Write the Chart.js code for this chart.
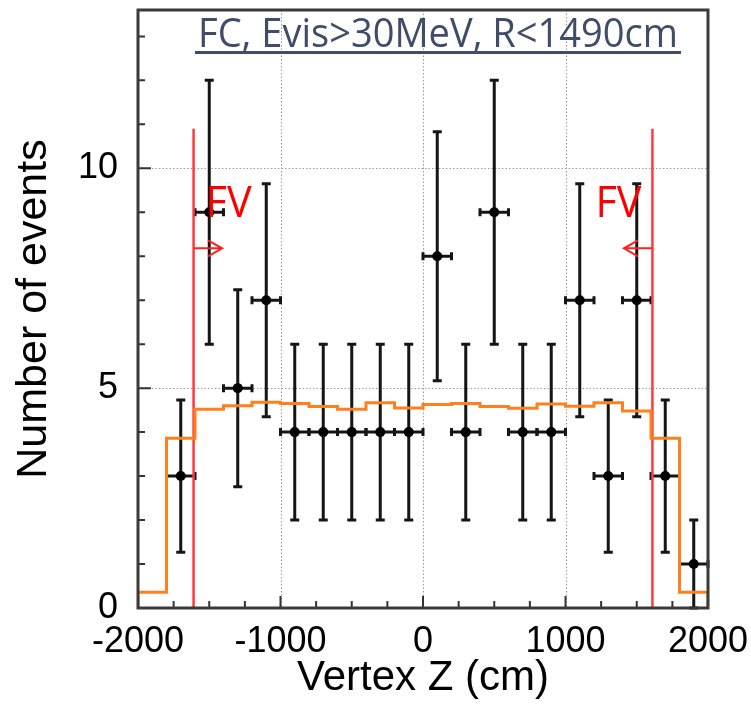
<!DOCTYPE html>
<html>
<head>
<meta charset="utf-8">
<script src="https://cdn.jsdelivr.net/npm/chart.js@4.4.1/dist/chart.umd.min.js"></script>
<style>
  html, body { margin: 0; padding: 0; background: #fff; }
  canvas { display: block; }
</style>
</head>
<body>
<canvas id="c" width="751" height="704"></canvas>
<script>
// Observed events per 200 cm bin of vertex Z
const binCenters = [-1700, -1500, -1300, -1100, -900, -700, -500, -300, -100, 100, 300, 500, 700, 900, 1100, 1300, 1500, 1700, 1900];
const events = [3, 9, 5, 7, 4, 4, 4, 4, 4, 8, 4, 9, 4, 4, 7, 3, 7, 3, 1];
const eventErrors = [1.73, 3.0, 2.24, 2.65, 2.0, 2.0, 2.0, 2.0, 2.0, 2.83, 2.0, 3.0, 2.0, 2.0, 2.65, 1.73, 2.65, 1.73, 1.0];
const binHalfWidth = 100;

// Expected distribution (histogram outline), 200 cm bins
const mcEdges = [-2000, -1800, -1600, -1400, -1200, -1000, -800, -600, -400, -200, 0, 200, 400, 600, 800, 1000, 1200, 1400, 1600, 1800, 2000];
const mcExpected = [0.36, 3.86, 4.52, 4.60, 4.68, 4.65, 4.58, 4.52, 4.67, 4.55, 4.63, 4.65, 4.58, 4.54, 4.64, 4.59, 4.67, 4.48, 3.86, 0.36];

// Fiducial volume boundaries
const fvBoundaries = [-1610, 1610];
const fvLineTop = 10.9;
const fvArrowY = 8.18;
const fvArrowLength = 200;
const fvLabelY = 8.9;

// Axis tick labels
const xTickValues = [-2000, -1000, 0, 1000, 2000];
const yTickValues = [0, 5, 10];
const xMinorStep = 250;
const yMinorStep = 1;

const titleText = 'FC, Evis>30MeV, R<1490cm';

const ORANGE = '#ff7f1e';
const RED = '#ff3b3b';
const LABEL_FONT = '"Liberation Sans", Arial, sans-serif';

const mcOutline = [{ x: mcEdges[0], y: 0 }];
mcExpected.forEach((v, i) => {
  mcOutline.push({ x: mcEdges[i], y: v }, { x: mcEdges[i + 1], y: v });
});
mcOutline.push({ x: mcEdges[mcEdges.length - 1], y: 0 });

const fvLeftLine = [{ x: fvBoundaries[0], y: 0 }, { x: fvBoundaries[0], y: fvLineTop }];
const fvRightLine = [{ x: fvBoundaries[1], y: 0 }, { x: fvBoundaries[1], y: fvLineTop }];
const eventPoints = binCenters.map((x, i) => ({ x, y: events[i] }));

const decor = {
  id: 'decor',
  beforeDatasetsDraw(chart) {
    const { ctx, chartArea: a, scales: { x, y } } = chart;
    ctx.save();
    ctx.strokeStyle = '#9a9a9a';
    ctx.lineWidth = 1;
    ctx.setLineDash([1.5, 2]);
    xTickValues.forEach(v => {
      if (v <= x.min || v >= x.max) return;
      const px = Math.round(x.getPixelForValue(v)) + 0.5;
      ctx.beginPath(); ctx.moveTo(px, a.top); ctx.lineTo(px, a.bottom); ctx.stroke();
    });
    yTickValues.forEach(v => {
      if (v <= y.min || v >= y.max) return;
      const py = Math.round(y.getPixelForValue(v)) + 0.5;
      ctx.beginPath(); ctx.moveTo(a.left, py); ctx.lineTo(a.right, py); ctx.stroke();
    });
    ctx.restore();
  },
  beforeDatasetDraw(chart, args) {
    if (args.index !== 3) return;
    const { ctx, scales: { x, y } } = chart;
    ctx.save();
    ctx.strokeStyle = '#151515';
    ctx.lineWidth = 3;
    ctx.lineCap = 'butt';
    binCenters.forEach((c, i) => {
      const px = x.getPixelForValue(c);
      const py = y.getPixelForValue(events[i]);
      const yLo = y.getPixelForValue(events[i] - eventErrors[i]);
      const yHi = y.getPixelForValue(events[i] + eventErrors[i]);
      const xLo = x.getPixelForValue(c - binHalfWidth);
      const xHi = x.getPixelForValue(c + binHalfWidth);
      ctx.beginPath();
      ctx.moveTo(px, yLo); ctx.lineTo(px, yHi);
      ctx.moveTo(xLo, py); ctx.lineTo(xHi, py);
      // caps
      ctx.moveTo(px - 4.5, yLo); ctx.lineTo(px + 4.5, yLo);
      ctx.moveTo(px - 4.5, yHi); ctx.lineTo(px + 4.5, yHi);
      ctx.moveTo(xLo, py - 4); ctx.lineTo(xLo, py + 4);
      ctx.moveTo(xHi, py - 4); ctx.lineTo(xHi, py + 4);
      ctx.stroke();
    });
    ctx.restore();
  },
  afterDatasetsDraw(chart) {
    const { ctx, scales: { x, y } } = chart;
    ctx.save();
    // FV labels and arrows
    ctx.fillStyle = '#ff0000';
    ctx.strokeStyle = '#ff2020';
    ctx.font = '43px "Open Sans"';
    const fvW = ctx.measureText('FV').width;
    const sx = 46 / fvW;
    const ly = y.getPixelForValue(fvLabelY);
    const lx0 = x.getPixelForValue(fvBoundaries[0]);
    const rx0 = x.getPixelForValue(fvBoundaries[1]);
    ctx.textBaseline = 'alphabetic';
    ctx.save(); ctx.translate(lx0 + 12, ly); ctx.scale(sx, 1); ctx.fillText('FV', 0, 0); ctx.restore();
    ctx.save(); ctx.translate(rx0 - 11 - 46, ly); ctx.scale(sx, 1); ctx.fillText('FV', 0, 0); ctx.restore();

    const ay = y.getPixelForValue(fvArrowY);
    ctx.lineWidth = 2;
    const lTip = x.getPixelForValue(fvBoundaries[0] + fvArrowLength);
    const rTip = x.getPixelForValue(fvBoundaries[1] - fvArrowLength);
    ctx.beginPath();
    ctx.moveTo(lx0, ay); ctx.lineTo(lTip, ay);
    ctx.moveTo(lTip - 14, ay - 8); ctx.lineTo(lTip, ay); ctx.lineTo(lTip - 14, ay + 8);
    ctx.moveTo(rx0, ay); ctx.lineTo(rTip, ay);
    ctx.moveTo(rTip + 14, ay - 8); ctx.lineTo(rTip, ay); ctx.lineTo(rTip + 14, ay + 8);
    ctx.stroke();

    // Selection title, underlined
    ctx.fillStyle = '#3f4d68';
    ctx.font = '40px "Open Sans"';
    const tw = ctx.measureText(titleText).width;
    ctx.save(); ctx.translate(198, 47); ctx.scale(480 / tw, 1); ctx.fillText(titleText, 0, 0); ctx.restore();
    ctx.fillRect(195, 51, 486, 3);
    ctx.restore();
  },
  afterDraw(chart) {
    const { ctx, chartArea: a, scales: { x, y } } = chart;
    ctx.save();
    ctx.strokeStyle = '#333';
    ctx.lineWidth = 2;
    // minor/major tick marks pointing into the plot
    ctx.beginPath();
    for (let v = x.min; v <= x.max + 1e-9; v += xMinorStep) {
      const px = x.getPixelForValue(v);
      const len = (v % 1000 === 0) ? 12 : 7;
      ctx.moveTo(px, a.bottom); ctx.lineTo(px, a.bottom - len);
    }
    for (let v = y.min; v <= y.max + 1e-9; v += yMinorStep) {
      const py = y.getPixelForValue(v);
      const len = (v % 5 === 0) ? 13 : 7;
      ctx.moveTo(a.left, py); ctx.lineTo(a.left + len, py);
    }
    ctx.stroke();
    // frame
    ctx.strokeStyle = '#3a3a3a';
    ctx.lineWidth = 3;
    ctx.strokeRect(a.left, a.top, a.right - a.left, a.bottom - a.top);
    ctx.restore();
  }
};

new Chart(document.getElementById('c'), {
  type: 'scatter',
  data: {
    datasets: [
      { type: 'line', data: mcOutline, borderColor: ORANGE, borderWidth: 3, pointRadius: 0, fill: false, tension: 0 },
      { type: 'line', data: fvLeftLine, borderColor: RED, borderWidth: 2.5, pointRadius: 0, fill: false },
      { type: 'line', data: fvRightLine, borderColor: RED, borderWidth: 2.5, pointRadius: 0, fill: false },
      { type: 'scatter', data: eventPoints, pointRadius: 5, backgroundColor: '#000', borderColor: '#000', borderWidth: 0 }
    ]
  },
  options: {
    responsive: false,
    animation: false,
    layout: { padding: { top: 10, right: 43, left: 0, bottom: 0 } },
    plugins: { legend: { display: false }, tooltip: { enabled: false } },
    scales: {
      x: {
        type: 'linear', min: -2000, max: 2000,
        grid: { display: false, drawTicks: false },
        border: { display: false },
        afterBuildTicks: s => { s.ticks = xTickValues.map(v => ({ value: v })); },
        ticks: { font: { family: LABEL_FONT, size: 36 }, color: '#000', padding: 12, maxRotation: 0, autoSkip: false, callback: v => String(v) },
        title: { display: true, text: 'Vertex Z (cm)', font: { family: LABEL_FONT, size: 42 }, color: '#000', padding: 0 },
        afterFit: s => { s.height = 96; s.paddingLeft = 0; s.paddingRight = 0; }
      },
      y: {
        type: 'linear', min: 0, max: 13.6,
        grid: { display: false, drawTicks: false },
        border: { display: false },
        afterBuildTicks: s => { s.ticks = yTickValues.map(v => ({ value: v })); },
        ticks: { font: { family: LABEL_FONT, size: 36 }, color: '#000', padding: 20, autoSkip: false, callback: v => String(v) },
        title: { display: true, text: 'Number of events', font: { family: LABEL_FONT, size: 43 }, color: '#000', padding: { top: 8, bottom: 0 } },
        afterFit: s => { s.width = 138; s.paddingTop = 0; s.paddingBottom = 0; }
      }
    }
  },
  plugins: [decor]
});
</script>
</body>
</html>
